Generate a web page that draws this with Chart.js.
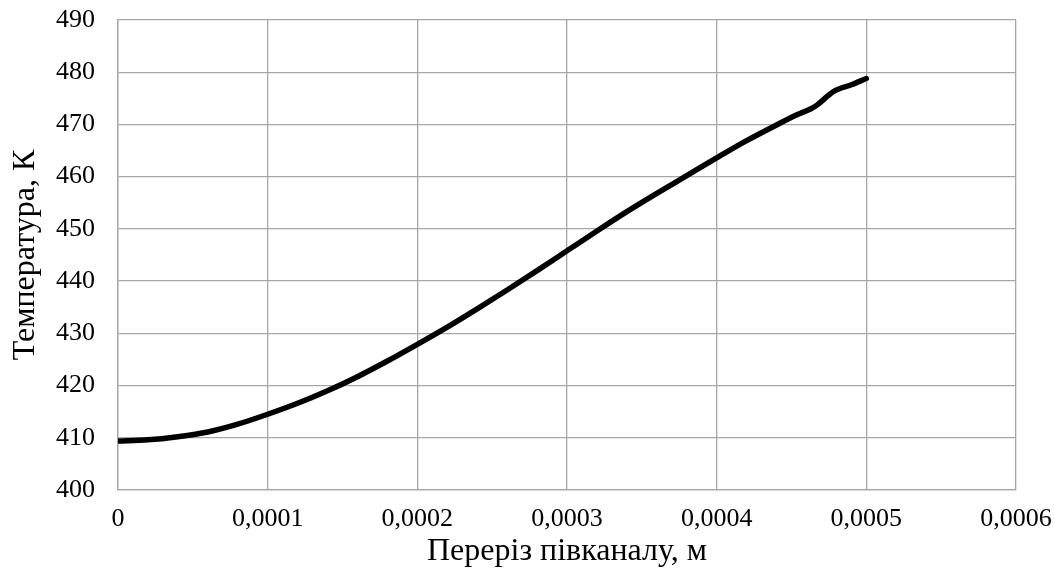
<!DOCTYPE html>
<html>
<head>
<meta charset="utf-8">
<script src="https://cdn.jsdelivr.net/npm/chart.js@4"></script>
<style>
  html, body { margin: 0; padding: 0; background: #fff; }
  #wrap { width: 1054px; height: 572px; }
</style>
</head>
<body>
<div id="wrap"><canvas id="chart"></canvas></div>
<script>
// переріз, м
const xValues = [0, 0.00002, 0.00004, 0.00006, 0.00008, 0.0001, 0.00012, 0.00014, 0.00016, 0.00018,
  0.0002, 0.00022, 0.00024, 0.00026, 0.00028, 0.0003, 0.00032, 0.00034, 0.00036, 0.00038,
  0.0004, 0.00042, 0.00044, 0.000454, 0.000463, 0.000467, 0.000474, 0.000478, 0.00049, 0.0005];
// температура, К
const tempValues = [409.4, 409.6, 410.2, 411.1, 412.6, 414.5, 416.6, 419.0, 421.7, 424.7,
  427.9, 431.2, 434.7, 438.3, 442.0, 445.8, 449.6, 453.3, 456.8, 460.2,
  463.6, 466.9, 469.9, 471.9, 473.0, 473.7, 475.4, 476.3, 477.6, 478.8];

const gridColor = '#a6a6a6';
const fontFamily = '"Liberation Serif", "Times New Roman", serif';

const points = xValues.map((x, i) => ({ x: x, y: tempValues[i] }));

const fmtX = v => {
  const r = Math.round(v * 1e5) / 1e5;
  if (r === 0) return '0';
  return r.toFixed(4).replace('.', ',');
};

new Chart(document.getElementById('chart'), {
  type: 'scatter',
  data: {
    datasets: [{
      data: points,
      showLine: true,
      borderColor: '#000',
      borderWidth: 5.5,
      pointRadius: 0,
      cubicInterpolationMode: 'monotone',
      borderCapStyle: 'round',
      borderJoinStyle: 'round'
    }]
  },
  options: {
    responsive: true,
    maintainAspectRatio: false,
    animation: false,
    layout: { padding: { top: 20, right: 38, left: 0, bottom: 0 } },
    plugins: { legend: { display: false }, tooltip: { enabled: false } },
    scales: {
      x: {
        type: 'linear',
        min: 0,
        max: 0.0006,
        ticks: {
          stepSize: 0.0001,
          callback: fmtX,
          color: '#000',
          font: { family: fontFamily, size: 26 },
          padding: 14,
          maxRotation: 0
        },
        grid: { color: gridColor, lineWidth: 1.3, drawTicks: false },
        border: { color: gridColor, width: 1.3 },
        title: {
          display: true,
          text: 'Переріз півканалу, м',
          color: '#000',
          font: { family: fontFamily, size: 32 },
          padding: { top: 0, bottom: 1 }
        },
        afterFit: s => { s.height = 82; s.paddingLeft = 0; s.paddingRight = 0; }
      },
      y: {
        min: 400,
        max: 490,
        ticks: {
          stepSize: 10,
          color: '#000',
          font: { family: fontFamily, size: 26 },
          padding: 23
        },
        grid: { color: gridColor, lineWidth: 1.3, drawTicks: false },
        border: { color: gridColor, width: 1.3 },
        title: {
          display: true,
          text: 'Температура, К',
          color: '#000',
          font: { family: fontFamily, size: 32 },
          padding: { top: 6, bottom: 0 }
        },
        afterFit: s => { s.width = 118; s.paddingTop = 0; s.paddingBottom = 0; }
      }
    }
  }
});
</script>
</body>
</html>
